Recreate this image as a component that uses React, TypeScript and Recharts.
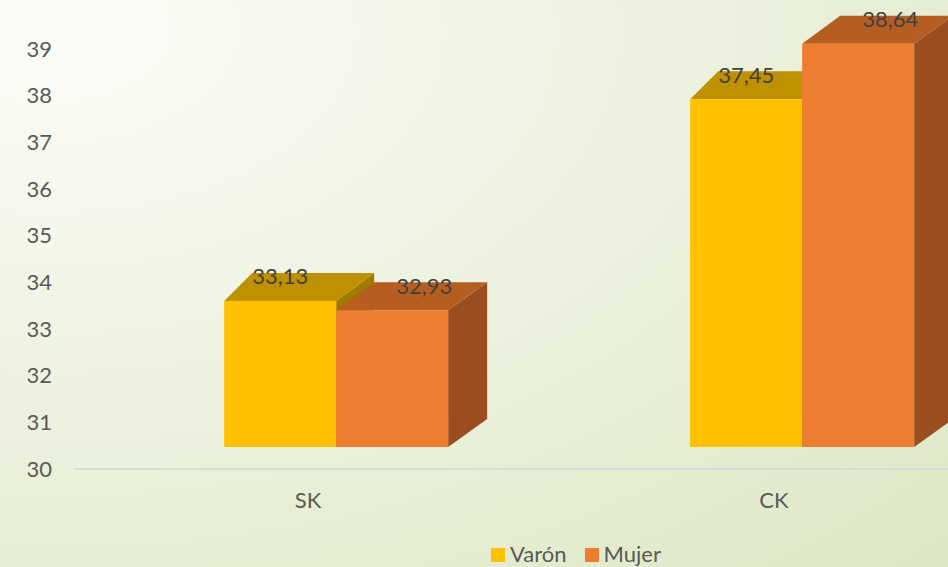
import React from 'react';
import { BarChart, Bar, XAxis, YAxis } from 'recharts';

const categories = ['SK', 'CK'];
const varon = [33.13, 37.45];
const mujer = [32.93, 38.64];
const yTicks = [30, 31, 32, 33, 34, 35, 36, 37, 38, 39];

const data = categories.map((name, i) => ({ name, varon: varon[i], mujer: mujer[i] }));

const FONT = 'Lato, "Open Sans", sans-serif';

// fake 3D projection: front face lifted/shifted, depth goes up-right
const SHIFT_X = 28;
const LIFT_Y = 22;
const DEPTH_Y = 28;

const fmt = (v: number) => v.toFixed(2).replace('.', ',');

const Bar3D = (props: any) => {
  const { x, y, width, height, payload, k, front, top, side, dxL, dxR, labelDx } = props;
  const xl = x + SHIFT_X;
  const xr = xl + width;
  const yt = y - LIFT_Y;
  const yb = y + height - LIFT_Y;
  const topPts = `${xl},${yt} ${xr},${yt} ${xr + dxR},${yt - DEPTH_Y} ${xl + dxL},${yt - DEPTH_Y}`;
  const sidePts = `${xr},${yt} ${xr + dxR},${yt - DEPTH_Y} ${xr + dxR},${yb - DEPTH_Y} ${xr},${yb}`;
  return (
    <g>
      <polygon points={sidePts} fill={side} />
      <polygon points={topPts} fill={top} />
      <rect x={xl} y={yt} width={width} height={height} fill={front} />
      <text
        x={xl + width / 2 + labelDx}
        y={yt - DEPTH_Y + 3}
        textAnchor="middle"
        dominantBaseline="central"
        fill="#404040"
        fontSize={22}
        fontFamily={FONT}
      >
        {fmt(payload[k])}
      </text>
    </g>
  );
};

const series = [
  { key: 'varon', name: 'Varón', front: '#FFC000', top: '#BF9000', side: '#9E7B00', dxL: 28, dxR: 38, labelDx: 0 },
  { key: 'mujer', name: 'Mujer', front: '#ED7D31', top: '#B65D22', side: '#9A4D1E', dxL: 38, dxR: 39, labelDx: 32 },
];

const LegendBox = () => (
  <div
    style={{
      position: 'absolute',
      left: 491,
      top: 543,
      display: 'flex',
      alignItems: 'center',
      fontFamily: FONT,
      fontSize: 22,
      lineHeight: '22px',
      color: '#595959',
    }}
  >
    {series.map((s) => (
      <div key={s.key} style={{ display: 'flex', alignItems: 'center', marginRight: 18 }}>
        <span style={{ display: 'inline-block', width: 14, height: 14, background: s.front, marginRight: 5, marginTop: 2 }} />
        <span>{s.name}</span>
      </div>
    ))}
  </div>
);

export default function App() {
  return (
    <div
      style={{
        position: 'absolute',
        left: 0,
        top: 0,
        width: 948,
        height: 567,
        overflow: 'hidden',
        background: 'radial-gradient(ellipse at 5% 5%, #fbfcf8 0%, #eef3e1 45%, #dde7c5 100%)',
      }}
    >
      <BarChart
        width={1007}
        height={567}
        data={data}
        margin={{ top: 49, right: 0, left: 0, bottom: 58 }}
        barCategoryGap="26%"
        barGap={0}
      >
        <XAxis
          dataKey="name"
          height={40}
          tickLine={false}
          axisLine={{ stroke: '#d9d9d9', strokeWidth: 2 }}
          tickMargin={17}
          tick={{ fill: '#595959', fontSize: 22, fontFamily: FONT }}
        />
        <YAxis
          width={75}
          domain={[30, 39]}
          ticks={yTicks}
          tickLine={false}
          axisLine={false}
          tickMargin={17}
          tick={{ fill: '#595959', fontSize: 22, fontFamily: FONT }}
        />
        {series.map((s) => (
          <Bar
            key={s.key}
            dataKey={s.key}
            name={s.name}
            fill={s.front}
            isAnimationActive={false}
            shape={(p: any) => <Bar3D {...p} k={s.key} {...s} />}
          />
        ))}
      </BarChart>
      <LegendBox />
    </div>
  );
}
